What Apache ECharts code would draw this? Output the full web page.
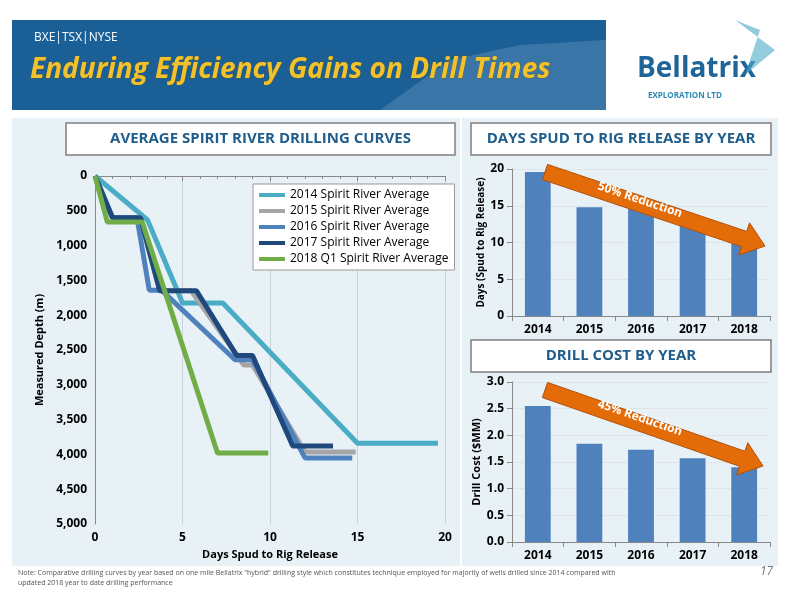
<!DOCTYPE html>
<html>
<head>
<meta charset="utf-8">
<script src="https://cdn.jsdelivr.net/npm/echarts@6/dist/echarts.min.js"></script>
<style>
  * { margin: 0; padding: 0; }
  html, body, #c { width: 800px; height: 600px; background: #fff; overflow: hidden; }
</style>
</head>
<body>
<div id="c"></div>
<script>
  // drilling curves: [day, measured depth m]
  var curve2014 = [[0,0],[3.0,630],[5.0,1825],[7.3,1825],[15.0,3840],[19.6,3840]];
  var curve2015 = [[0,0],[1.0,600],[2.6,620],[3.7,1650],[5.5,1650],[8.5,2715],[9.0,2715],[12.0,3965],[14.9,3965]];
  var curve2016 = [[0,0],[1.0,600],[2.4,600],[3.1,1640],[3.8,1640],[8.0,2640],[9.0,2640],[12.0,4050],[14.7,4050]];
  var curve2017 = [[0,0],[1.0,600],[2.6,600],[3.7,1650],[5.8,1650],[8.1,2580],[9.0,2580],[11.3,3880],[13.6,3880]];
  var curve2018 = [[0,0],[0.7,660],[2.7,660],[7.0,3980],[9.9,3980]];
  var seriesNames = ['2014 Spirit River Average','2015 Spirit River Average','2016 Spirit River Average','2017 Spirit River Average','2018 Q1 Spirit River Average'];
  var seriesColors = ['#4bacc6','#a5a5a5','#4f81bd','#1f497d','#70ad47'];

  var years = ['2014','2015','2016','2017','2018'];
  var daysSpud = [19.6, 14.8, 14.6, 12.5, 9.8];
  var drillCost = [2.55, 1.84, 1.73, 1.57, 1.40];

  var font = '"Open Sans", "Noto Sans", sans-serif';
  var chart = echarts.init(document.getElementById('c'));

  // arrow polygon from tail to tip (decoration only)
  function arrow(x1, y1, x2, y2) {
    var dx = x2 - x1, dy = y2 - y1, L = Math.sqrt(dx*dx + dy*dy);
    var ux = dx / L, uy = dy / L, nx = -uy, ny = ux;
    var w = 8, hw = 17, hl = 22;
    var bx = x2 - ux * hl, by = y2 - uy * hl;
    return [
      [x1 + nx*w, y1 + ny*w], [bx + nx*w, by + ny*w], [bx + nx*hw, by + ny*hw], [x2, y2],
      [bx - nx*hw, by - ny*hw], [bx - nx*w, by - ny*w], [x1 - nx*w, y1 - ny*w]
    ];
  }
  function titleBox(x, y, w, h, text) {
    return [
      { type: 'rect', shape: { x: x, y: y, width: w, height: h }, style: { fill: '#fff', stroke: '#7f7f7f', lineWidth: 1.5 } },
      { type: 'text', x: x + w / 2, y: y + h / 2, style: { text: text, fill: '#1f5d8c', font: 'bold 15px ' + font, align: 'center', verticalAlign: 'middle' } }
    ];
  }

  var series = [];
  [curve2014, curve2015, curve2016, curve2017, curve2018].forEach(function (d, i) {
    series.push({ name: seriesNames[i], type: 'line', data: d, xAxisIndex: 0, yAxisIndex: 0, symbol: 'none',
      lineStyle: { color: seriesColors[i], width: 5 }, itemStyle: { color: seriesColors[i] } });
  });
  series.push({ type: 'bar', data: daysSpud, xAxisIndex: 1, yAxisIndex: 1, barWidth: '50%', itemStyle: { color: '#4f81bd' } });
  series.push({ type: 'bar', data: drillCost, xAxisIndex: 2, yAxisIndex: 2, barWidth: '50%', itemStyle: { color: '#4f81bd' } });

  var axisLbl = { color: '#000', fontFamily: font, fontWeight: 'bold', fontSize: 12 };
  var axisLine = { show: true, lineStyle: { color: '#888' } };

  var graphic = [
    { type: 'rect', z: -10, shape: { x: 12, y: 20, width: 594, height: 90 }, style: { fill: '#1a5f96' } },
    { type: 'polygon', z: -9, shape: { points: [[380,110],[450,60],[520,45],[606,40],[606,110]] }, style: { fill: 'rgba(120,160,200,0.35)' } },
    { type: 'text', x: 34, y: 32, style: { text: 'BXE|TSX|NYSE', fill: '#fff', font: '12px ' + font } },
    { type: 'text', x: 30, y: 56, style: { text: 'Enduring Efficiency Gains on Drill Times', fill: '#f2c12e', stroke: '#6b5a10', lineWidth: 0.5, font: 'italic bold 28px ' + font } },
    { type: 'text', x: 637, y: 55, style: { text: 'Bellatrix', fill: '#1f6597', font: 'bold 28px ' + font } },
    { type: 'text', x: 648, y: 92, style: { text: 'EXPLORATION LTD', fill: '#2a8ab6', font: 'bold 8px ' + font } },
    { type: 'polygon', shape: { points: [[735,20],[775,50],[745,75],[760,30]] }, style: { fill: 'rgba(75,172,198,0.6)' } },
    { type: 'rect', z: -10, shape: { x: 12, y: 118, width: 448, height: 448 }, style: { fill: '#e8f1f6' } },
    { type: 'rect', z: -10, shape: { x: 462, y: 118, width: 316, height: 448 }, style: { fill: '#e8f1f6' } },
    { type: 'polygon', z: 20, shape: { points: arrow(545, 172, 765, 246) }, style: { fill: '#e36c09', stroke: '#b45008', lineWidth: 1 } },
    { type: 'text', z: 21, x: 640, y: 200, rotation: -0.325, style: { text: '50% Reduction', fill: '#fff', font: 'bold 12px ' + font, align: 'center', verticalAlign: 'middle' } },
    { type: 'polygon', z: 20, shape: { points: arrow(545, 390, 763, 466) }, style: { fill: '#e36c09', stroke: '#b45008', lineWidth: 1 } },
    { type: 'text', z: 21, x: 640, y: 418, rotation: -0.33, style: { text: '45% Reduction', fill: '#fff', font: 'bold 12px ' + font, align: 'center', verticalAlign: 'middle' } },
    { type: 'text', x: 18, y: 568, style: { text: 'Note: Comparative drilling curves by year based on one mile Bellatrix "hybrid" drilling style which constitutes technique employed for majority of wells drilled since 2014 compared with\nupdated 2018 year to date drilling performance', fill: '#555', font: '7px ' + font, lineHeight: 10 } },
    { type: 'text', x: 760, y: 566, style: { text: '17', fill: '#777', font: 'italic 12px ' + font } }
  ].concat(titleBox(66, 123, 389, 32, 'AVERAGE SPIRIT RIVER DRILLING CURVES'))
   .concat(titleBox(471, 123, 300, 32, 'DAYS SPUD TO RIG RELEASE BY YEAR'))
   .concat(titleBox(471, 340, 300, 32, 'DRILL COST BY YEAR'));

  var option = {
    animation: false,
    textStyle: { fontFamily: font },
    graphic: graphic,
    legend: {
      data: seriesNames, orient: 'vertical', left: 253, top: 184, itemGap: 4, itemWidth: 26, itemHeight: 4,
      backgroundColor: '#fff', borderColor: '#999', borderWidth: 1, padding: [5, 6],
      icon: 'rect', textStyle: { color: '#000', fontSize: 12, fontFamily: font }
    },
    grid: [
      { left: 95, top: 176, width: 350, height: 348 },
      { left: 512, top: 169, width: 258, height: 147 },
      { left: 512, top: 382, width: 258, height: 160 }
    ],
    xAxis: [
      { type: 'value', gridIndex: 0, min: 0, max: 20, interval: 5, name: 'Days Spud to Rig Release', nameLocation: 'middle', nameGap: 22,
        nameTextStyle: { fontWeight: 'bold', fontSize: 11, color: '#000' },
        axisLine: axisLine, axisTick: { show: true }, minorTick: { show: true, splitNumber: 5 }, axisLabel: axisLbl,
        splitLine: { show: true, lineStyle: { color: '#c8d3da' } } },
      { type: 'category', gridIndex: 1, data: years, axisLine: axisLine, axisTick: { show: true, lineStyle: { color: '#888' } }, axisLabel: axisLbl },
      { type: 'category', gridIndex: 2, data: years, axisLine: axisLine, axisTick: { show: true, lineStyle: { color: '#888' } }, axisLabel: axisLbl }
    ],
    yAxis: [
      { type: 'value', gridIndex: 0, inverse: true, min: 0, max: 5000, interval: 500, name: 'Measured Depth (m)', nameLocation: 'middle', nameGap: 50,
        nameTextStyle: { fontWeight: 'bold', fontSize: 11, color: '#000' },
        axisLine: axisLine, axisTick: { show: false }, axisLabel: Object.assign({ formatter: function (v) { return v.toLocaleString('en-US'); } }, axisLbl),
        splitLine: { show: false } },
      { type: 'value', gridIndex: 1, min: 0, max: 20, interval: 5, name: 'Days (Spud to Rig Release)', nameLocation: 'middle', nameGap: 26,
        nameTextStyle: { fontWeight: 'bold', fontSize: 10, color: '#000' },
        axisLine: axisLine, axisTick: { show: true }, axisLabel: axisLbl, splitLine: { lineStyle: { color: '#dde5ea' } } },
      { type: 'value', gridIndex: 2, min: 0, max: 3, interval: 0.5, name: 'Drill Cost ($MM)', nameLocation: 'middle', nameGap: 30,
        nameTextStyle: { fontWeight: 'bold', fontSize: 11, color: '#000' },
        axisLine: axisLine, axisTick: { show: true }, axisLabel: Object.assign({ formatter: function (v) { return v.toFixed(1); } }, axisLbl),
        splitLine: { lineStyle: { color: '#dde5ea' } } }
    ],
    series: series
  };
  chart.setOption(option);
</script>
</body>
</html>
